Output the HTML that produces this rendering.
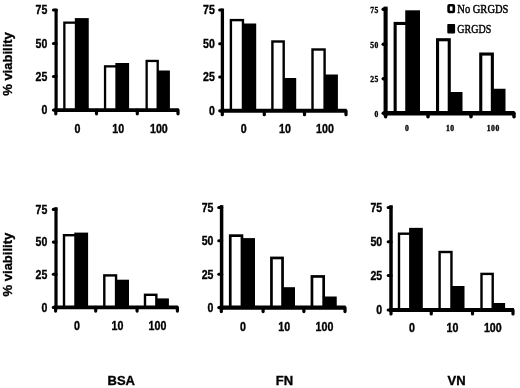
<!DOCTYPE html>
<html><head><meta charset="utf-8"><title>viability</title>
<style>
html,body{margin:0;padding:0;background:#fff;}
body{width:520px;height:388px;overflow:hidden;}
svg{display:block;filter:blur(0.35px);}
text{fill:#000;stroke:#000;stroke-width:0.35px;}
.s{font-family:"Liberation Sans",sans-serif;font-weight:bold;}
.r{font-family:"Liberation Serif",serif;font-weight:bold;}
.l{font-family:"Liberation Serif",serif;font-weight:normal;}
</style></head><body>
<svg width="520" height="388" viewBox="0 0 520 388">
<rect x="0" y="0" width="520" height="388" fill="#fff"/>
<g>
<rect x="74.82" y="18.10" width="13.93" height="92.00" fill="#000"/>
<rect x="64.35" y="22.65" width="11.62" height="87.45" fill="#fff" stroke="#000" stroke-width="2.3"/>
<rect x="115.35" y="63.00" width="13.75" height="47.10" fill="#000"/>
<rect x="105.05" y="66.35" width="11.45" height="43.75" fill="#fff" stroke="#000" stroke-width="2.3"/>
<rect x="156.55" y="70.50" width="13.35" height="39.60" fill="#000"/>
<rect x="146.65" y="60.95" width="11.05" height="49.15" fill="#fff" stroke="#000" stroke-width="2.3"/>
<line x1="56.1" y1="8.8" x2="56.1" y2="111.89999999999999" stroke="#000" stroke-width="3.2"/>
<line x1="54.5" y1="110.1" x2="178.6" y2="110.1" stroke="#000" stroke-width="3.6"/>
<line x1="55.8" y1="110.1" x2="55.8" y2="113.80" stroke="#000" stroke-width="3.2" stroke-linecap="round"/>
<line x1="96.5" y1="110.1" x2="96.5" y2="113.80" stroke="#000" stroke-width="3.2" stroke-linecap="round"/>
<line x1="137.3" y1="110.1" x2="137.3" y2="113.80" stroke="#000" stroke-width="3.2" stroke-linecap="round"/>
<line x1="178" y1="110.1" x2="178" y2="113.80" stroke="#000" stroke-width="3.2" stroke-linecap="round"/>
<line x1="53.50" y1="10" x2="56.1" y2="10" stroke="#000" stroke-width="3.2" stroke-linecap="round"/>
<line x1="53.50" y1="43.5" x2="56.1" y2="43.5" stroke="#000" stroke-width="3.2" stroke-linecap="round"/>
<line x1="53.50" y1="76.5" x2="56.1" y2="76.5" stroke="#000" stroke-width="3.2" stroke-linecap="round"/>
<line x1="53.50" y1="110.1" x2="56.1" y2="110.1" stroke="#000" stroke-width="3.2" stroke-linecap="round"/>
<text class="s" font-size="12" text-anchor="end" transform="translate(47.30,14.30) scale(0.88,1)">75</text>
<text class="s" font-size="12" text-anchor="end" transform="translate(47.30,47.80) scale(0.88,1)">50</text>
<text class="s" font-size="12" text-anchor="end" transform="translate(47.30,80.80) scale(0.88,1)">25</text>
<text class="s" font-size="12" text-anchor="end" transform="translate(47.30,114.40) scale(0.88,1)">0</text>
<text class="s" font-size="12" text-anchor="middle" transform="translate(77.40,133.15) scale(0.89,1)">0</text>
<text class="s" font-size="12" text-anchor="middle" transform="translate(118.20,133.15) scale(0.89,1)">10</text>
<text class="s" font-size="12" text-anchor="middle" transform="translate(158.90,133.15) scale(0.89,1)">100</text>
</g>
<g>
<rect x="241.75" y="23.50" width="14.45" height="87.30" fill="#000"/>
<rect x="230.90" y="20.10" width="12.05" height="90.70" fill="#fff" stroke="#000" stroke-width="2.4"/>
<rect x="282.50" y="78.00" width="13.70" height="32.80" fill="#000"/>
<rect x="272.40" y="41.50" width="11.30" height="69.30" fill="#fff" stroke="#000" stroke-width="2.4"/>
<rect x="323.40" y="74.50" width="14.50" height="36.30" fill="#000"/>
<rect x="312.50" y="49.50" width="12.10" height="61.30" fill="#fff" stroke="#000" stroke-width="2.4"/>
<line x1="222.4" y1="8.6" x2="222.4" y2="112.75" stroke="#000" stroke-width="3.3"/>
<line x1="220.75" y1="110.8" x2="346.5" y2="110.8" stroke="#000" stroke-width="3.9"/>
<line x1="222.3" y1="110.8" x2="222.3" y2="114.65" stroke="#000" stroke-width="3.2" stroke-linecap="round"/>
<line x1="264.3" y1="110.8" x2="264.3" y2="114.65" stroke="#000" stroke-width="3.2" stroke-linecap="round"/>
<line x1="304.5" y1="110.8" x2="304.5" y2="114.65" stroke="#000" stroke-width="3.2" stroke-linecap="round"/>
<line x1="346" y1="110.8" x2="346" y2="114.65" stroke="#000" stroke-width="3.2" stroke-linecap="round"/>
<line x1="219.75" y1="10" x2="222.4" y2="10" stroke="#000" stroke-width="3.2" stroke-linecap="round"/>
<line x1="219.75" y1="43.75" x2="222.4" y2="43.75" stroke="#000" stroke-width="3.2" stroke-linecap="round"/>
<line x1="219.75" y1="77" x2="222.4" y2="77" stroke="#000" stroke-width="3.2" stroke-linecap="round"/>
<line x1="219.75" y1="110.8" x2="222.4" y2="110.8" stroke="#000" stroke-width="3.2" stroke-linecap="round"/>
<text class="s" font-size="12" text-anchor="end" transform="translate(214.80,14.30) scale(0.88,1)">75</text>
<text class="s" font-size="12" text-anchor="end" transform="translate(214.80,48.05) scale(0.88,1)">50</text>
<text class="s" font-size="12" text-anchor="end" transform="translate(214.80,81.30) scale(0.88,1)">25</text>
<text class="s" font-size="12" text-anchor="end" transform="translate(214.80,115.10) scale(0.88,1)">0</text>
<text class="s" font-size="12" text-anchor="middle" transform="translate(243.80,133.20) scale(0.89,1)">0</text>
<text class="s" font-size="12" text-anchor="middle" transform="translate(285.00,133.20) scale(0.89,1)">10</text>
<text class="s" font-size="12" text-anchor="middle" transform="translate(325.00,133.20) scale(0.89,1)">100</text>
</g>
<g>
<rect x="405.25" y="10.30" width="14.75" height="103.00" fill="#000"/>
<rect x="395.15" y="23.45" width="11.65" height="89.85" fill="#fff" stroke="#000" stroke-width="3.1"/>
<rect x="447.70" y="92.00" width="14.80" height="21.30" fill="#000"/>
<rect x="437.55" y="39.75" width="11.70" height="73.55" fill="#fff" stroke="#000" stroke-width="3.1"/>
<rect x="490.80" y="88.75" width="14.70" height="24.55" fill="#000"/>
<rect x="480.75" y="54.05" width="11.60" height="59.25" fill="#fff" stroke="#000" stroke-width="3.1"/>
<line x1="385.6" y1="6.6" x2="385.6" y2="115.6" stroke="#000" stroke-width="4.1"/>
<line x1="383.55" y1="113.3" x2="514.5" y2="113.3" stroke="#000" stroke-width="4.6"/>
<line x1="385.6" y1="113.3" x2="385.6" y2="116.70" stroke="#000" stroke-width="3.5" stroke-linecap="round"/>
<line x1="428" y1="113.3" x2="428" y2="116.70" stroke="#000" stroke-width="3.5" stroke-linecap="round"/>
<line x1="471" y1="113.3" x2="471" y2="116.70" stroke="#000" stroke-width="3.5" stroke-linecap="round"/>
<line x1="514" y1="113.3" x2="514" y2="116.70" stroke="#000" stroke-width="3.5" stroke-linecap="round"/>
<line x1="383.25" y1="9.3" x2="385.6" y2="9.3" stroke="#000" stroke-width="3.5" stroke-linecap="round"/>
<line x1="383.25" y1="44.3" x2="385.6" y2="44.3" stroke="#000" stroke-width="3.5" stroke-linecap="round"/>
<line x1="383.25" y1="78.75" x2="385.6" y2="78.75" stroke="#000" stroke-width="3.5" stroke-linecap="round"/>
<line x1="383.25" y1="113.3" x2="385.6" y2="113.3" stroke="#000" stroke-width="3.5" stroke-linecap="round"/>
<text class="r" font-size="7.6" text-anchor="end" transform="translate(378.80,12.70) scale(1,1)" letter-spacing="0.5">75</text>
<text class="r" font-size="7.6" text-anchor="end" transform="translate(378.80,47.70) scale(1,1)" letter-spacing="0.5">50</text>
<text class="r" font-size="7.6" text-anchor="end" transform="translate(378.80,82.15) scale(1,1)" letter-spacing="0.5">25</text>
<text class="r" font-size="7.6" text-anchor="end" transform="translate(378.80,116.70) scale(1,1)" letter-spacing="0.5">0</text>
<text class="r" font-size="7.6" text-anchor="middle" transform="translate(407.25,130.90) scale(1,1)" letter-spacing="0.5">0</text>
<text class="r" font-size="7.6" text-anchor="middle" transform="translate(450.25,130.90) scale(1,1)" letter-spacing="0.5">10</text>
<text class="r" font-size="7.6" text-anchor="middle" transform="translate(493.25,130.90) scale(1,1)" letter-spacing="0.5">100</text>
</g>
<g>
<rect x="74.25" y="232.60" width="13.85" height="74.80" fill="#000"/>
<rect x="64.00" y="235.20" width="11.45" height="72.20" fill="#fff" stroke="#000" stroke-width="2.4"/>
<rect x="114.85" y="279.70" width="14.15" height="27.70" fill="#000"/>
<rect x="104.30" y="275.40" width="11.75" height="32.00" fill="#fff" stroke="#000" stroke-width="2.4"/>
<rect x="155.15" y="298.40" width="13.75" height="9.00" fill="#000"/>
<rect x="145.00" y="294.80" width="11.35" height="12.60" fill="#fff" stroke="#000" stroke-width="2.4"/>
<line x1="56.0" y1="207.2" x2="56.0" y2="309.2" stroke="#000" stroke-width="3.2"/>
<line x1="54.4" y1="307.4" x2="177.8" y2="307.4" stroke="#000" stroke-width="3.6"/>
<line x1="55.6" y1="307.4" x2="55.6" y2="311.10" stroke="#000" stroke-width="3.2" stroke-linecap="round"/>
<line x1="95.7" y1="307.4" x2="95.7" y2="311.10" stroke="#000" stroke-width="3.2" stroke-linecap="round"/>
<line x1="137.1" y1="307.4" x2="137.1" y2="311.10" stroke="#000" stroke-width="3.2" stroke-linecap="round"/>
<line x1="177.4" y1="307.4" x2="177.4" y2="311.10" stroke="#000" stroke-width="3.2" stroke-linecap="round"/>
<line x1="53.40" y1="209.4" x2="56.0" y2="209.4" stroke="#000" stroke-width="3.2" stroke-linecap="round"/>
<line x1="53.40" y1="242.1" x2="56.0" y2="242.1" stroke="#000" stroke-width="3.2" stroke-linecap="round"/>
<line x1="53.40" y1="274.25" x2="56.0" y2="274.25" stroke="#000" stroke-width="3.2" stroke-linecap="round"/>
<line x1="53.40" y1="307.4" x2="56.0" y2="307.4" stroke="#000" stroke-width="3.2" stroke-linecap="round"/>
<text class="s" font-size="12" text-anchor="end" transform="translate(47.30,213.70) scale(0.88,1)">75</text>
<text class="s" font-size="12" text-anchor="end" transform="translate(47.30,246.40) scale(0.88,1)">50</text>
<text class="s" font-size="12" text-anchor="end" transform="translate(47.30,278.55) scale(0.88,1)">25</text>
<text class="s" font-size="12" text-anchor="end" transform="translate(47.30,311.70) scale(0.88,1)">0</text>
<text class="s" font-size="12" text-anchor="middle" transform="translate(77.00,330.20) scale(0.89,1)">0</text>
<text class="s" font-size="12" text-anchor="middle" transform="translate(117.50,330.20) scale(0.89,1)">10</text>
<text class="s" font-size="12" text-anchor="middle" transform="translate(157.50,330.20) scale(0.89,1)">100</text>
</g>
<g>
<rect x="240.60" y="238.10" width="14.40" height="69.50" fill="#000"/>
<rect x="230.25" y="235.65" width="11.70" height="71.95" fill="#fff" stroke="#000" stroke-width="2.7"/>
<rect x="281.20" y="287.20" width="13.80" height="20.40" fill="#000"/>
<rect x="271.45" y="257.95" width="11.10" height="49.65" fill="#fff" stroke="#000" stroke-width="2.7"/>
<rect x="322.32" y="296.50" width="14.42" height="11.10" fill="#000"/>
<rect x="311.95" y="276.45" width="11.72" height="31.15" fill="#fff" stroke="#000" stroke-width="2.7"/>
<line x1="221.6" y1="205.1" x2="221.6" y2="309.65000000000003" stroke="#000" stroke-width="3.5"/>
<line x1="219.85" y1="307.6" x2="345.5" y2="307.6" stroke="#000" stroke-width="4.1"/>
<line x1="221.3" y1="307.6" x2="221.3" y2="311.55" stroke="#000" stroke-width="3.2" stroke-linecap="round"/>
<line x1="263.1" y1="307.6" x2="263.1" y2="311.55" stroke="#000" stroke-width="3.2" stroke-linecap="round"/>
<line x1="303.9" y1="307.6" x2="303.9" y2="311.55" stroke="#000" stroke-width="3.2" stroke-linecap="round"/>
<line x1="345" y1="307.6" x2="345" y2="311.55" stroke="#000" stroke-width="3.2" stroke-linecap="round"/>
<line x1="218.85" y1="207.5" x2="221.6" y2="207.5" stroke="#000" stroke-width="3.2" stroke-linecap="round"/>
<line x1="218.85" y1="240.75" x2="221.6" y2="240.75" stroke="#000" stroke-width="3.2" stroke-linecap="round"/>
<line x1="218.85" y1="274.25" x2="221.6" y2="274.25" stroke="#000" stroke-width="3.2" stroke-linecap="round"/>
<line x1="218.85" y1="307.6" x2="221.6" y2="307.6" stroke="#000" stroke-width="3.2" stroke-linecap="round"/>
<text class="s" font-size="12" text-anchor="end" transform="translate(213.40,211.80) scale(0.88,1)">75</text>
<text class="s" font-size="12" text-anchor="end" transform="translate(213.40,245.05) scale(0.88,1)">50</text>
<text class="s" font-size="12" text-anchor="end" transform="translate(213.40,278.55) scale(0.88,1)">25</text>
<text class="s" font-size="12" text-anchor="end" transform="translate(213.40,311.90) scale(0.88,1)">0</text>
<text class="s" font-size="12" text-anchor="middle" transform="translate(243.00,330.55) scale(0.89,1)">0</text>
<text class="s" font-size="12" text-anchor="middle" transform="translate(284.25,330.55) scale(0.89,1)">10</text>
<text class="s" font-size="12" text-anchor="middle" transform="translate(324.50,330.55) scale(0.89,1)">100</text>
</g>
<g>
<rect x="409.10" y="227.85" width="13.70" height="82.15" fill="#000"/>
<rect x="399.00" y="233.70" width="11.30" height="76.30" fill="#fff" stroke="#000" stroke-width="2.4"/>
<rect x="450.25" y="286.00" width="14.25" height="24.00" fill="#000"/>
<rect x="439.60" y="252.00" width="11.85" height="58.00" fill="#fff" stroke="#000" stroke-width="2.4"/>
<rect x="491.50" y="303.00" width="13.60" height="7.00" fill="#000"/>
<rect x="481.50" y="273.90" width="11.20" height="36.10" fill="#fff" stroke="#000" stroke-width="2.4"/>
<line x1="391" y1="205.2" x2="391" y2="312.0" stroke="#000" stroke-width="3.5"/>
<line x1="389.25" y1="310" x2="514" y2="310" stroke="#000" stroke-width="4.0"/>
<line x1="391" y1="310" x2="391" y2="313.90" stroke="#000" stroke-width="3.2" stroke-linecap="round"/>
<line x1="431.25" y1="310" x2="431.25" y2="313.90" stroke="#000" stroke-width="3.2" stroke-linecap="round"/>
<line x1="472.5" y1="310" x2="472.5" y2="313.90" stroke="#000" stroke-width="3.2" stroke-linecap="round"/>
<line x1="513" y1="310" x2="513" y2="313.90" stroke="#000" stroke-width="3.2" stroke-linecap="round"/>
<line x1="388.25" y1="207.5" x2="391" y2="207.5" stroke="#000" stroke-width="3.2" stroke-linecap="round"/>
<line x1="388.25" y1="241.75" x2="391" y2="241.75" stroke="#000" stroke-width="3.2" stroke-linecap="round"/>
<line x1="388.25" y1="275.5" x2="391" y2="275.5" stroke="#000" stroke-width="3.2" stroke-linecap="round"/>
<line x1="388.25" y1="310" x2="391" y2="310" stroke="#000" stroke-width="3.2" stroke-linecap="round"/>
<text class="s" font-size="12" text-anchor="end" transform="translate(382.20,211.80) scale(0.88,1)">75</text>
<text class="s" font-size="12" text-anchor="end" transform="translate(382.20,246.05) scale(0.88,1)">50</text>
<text class="s" font-size="12" text-anchor="end" transform="translate(382.20,279.80) scale(0.88,1)">25</text>
<text class="s" font-size="12" text-anchor="end" transform="translate(382.20,314.30) scale(0.88,1)">0</text>
<text class="s" font-size="12" text-anchor="middle" transform="translate(412.00,332.00) scale(0.89,1)">0</text>
<text class="s" font-size="12" text-anchor="middle" transform="translate(452.50,332.00) scale(0.89,1)">10</text>
<text class="s" font-size="12" text-anchor="middle" transform="translate(492.80,332.00) scale(0.89,1)">100</text>
</g>
<text class="s" font-size="13" text-anchor="middle" transform="translate(12.4,64) rotate(-90)">% viability</text>
<text class="s" font-size="13" text-anchor="middle" transform="translate(12.4,264.6) rotate(-90)">% viability</text>
<text class="s" font-size="13" x="121.25" y="385" text-anchor="middle">BSA</text>
<text class="s" font-size="13" x="284.4" y="385" text-anchor="middle">FN</text>
<text class="s" font-size="13" x="456.5" y="385" text-anchor="middle">VN</text>
<rect x="448.6" y="5.2" width="5.2" height="6.8" rx="0.8" fill="#fff" stroke="#000" stroke-width="2.6"/>
<rect x="447.3" y="24" width="7.8" height="9.4" rx="0.8" fill="#000"/>
<text class="l" font-size="13" transform="translate(457.3,12.7) scale(0.81,1)" style="stroke-width:0.45px">No GRGDS</text>
<text class="l" font-size="13" transform="translate(457.3,32.8) scale(0.77,1)" style="stroke-width:0.45px">GRGDS</text>
</svg></body></html>
